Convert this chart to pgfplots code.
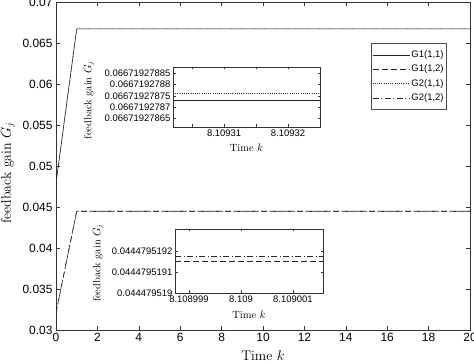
\documentclass[border=0pt]{standalone}
\usepackage{pgfplots}
\pgfplotsset{compat=1.18}
\usepackage{fontspec}
\newfontfamily\arialfont{Liberation Sans}

\pgfplotsset{
  gainstyle/.style={
    scale only axis,
    anchor=south west,
    axis line style={black!80, line width=0.5pt},
    tick style={black!80, line width=0.5pt},
    tick align=inside,
    /pgf/number format/assume math mode=true,
    axis background/.style={fill=white},
    every axis plot/.append style={line width=0.6pt, black!85},
  },
  dashdot/.style={dash pattern=on 6bp off 2.5bp on 1bp off 2.5bp},
  longdash/.style={dash pattern=on 6bp off 3bp},
  finedot/.style={dash pattern=on 0.6bp off 1.6bp},
}

\begin{document}
\begin{tikzpicture}

% main plot: gains over time
\begin{axis}[gainstyle,
  at={(56bp,34bp)}, width=414bp, height=328bp,
  xmin=0, xmax=20, ymin=0.03, ymax=0.07,
  xtick={0,2,4,6,8,10,12,14,16,18,20},
  ytick={0.03,0.035,0.04,0.045,0.05,0.055,0.06,0.065,0.07},
  yticklabels={0.03,0.035,0.04,0.045,0.05,0.055,0.06,0.065,0.07},
  major tick length=4bp,
  ticklabel style={font=\arialfont\fontsize{12}{14}\selectfont},
  xlabel={Time $k$}, ylabel={feedback gain $G_j$},
  label style={font=\fontsize{14}{16}\selectfont},
  xlabel style={at={(axis description cs:0.5,-0.079)}, anchor=center},
  ylabel style={at={(axis description cs:-0.116,0.479)}, anchor=center},
  legend style={at={(axis description cs:0.944,0.875)}, anchor=north east,
    font=\arialfont\fontsize{9.5}{11}\selectfont, draw=black!70,
    line width=0.5pt, inner xsep=1.5bp, inner ysep=6bp, row sep=3bp,
    nodes={inner sep=1.5bp}},
  legend cell align=left,
  legend image code/.code={\draw[#1] (0bp,0bp) -- (37bp,0bp);},
]
\addplot[solid] coordinates {(0,0.0479) (1,0.066719279) (20,0.066719279)};
\addlegendentry{G1(1,1)}
\addplot[longdash] coordinates {(0,0.0321) (1,0.044479519) (20,0.044479519)};
\addlegendentry{G1(1,2)}
\addplot[finedot] coordinates {(0,0.0479) (1,0.066719279) (20,0.066719279)};
\addlegendentry{G2(1,1)}
\addplot[dashdot] coordinates {(0,0.0321) (1,0.044479519) (20,0.044479519)};
\addlegendentry{G2(1,2)}
\end{axis}

% zoom on G1(1,1), G2(1,1): x = 8.1093 + x*1e-6, y = 0.066719278 + y*1e-11
\begin{axis}[gainstyle,
  at={(173bp,237bp)}, width=147bp, height=60bp,
  xmin=2, xmax=25, ymin=6.13, ymax=8.77,
  xtick={5,10,15,20}, xticklabels={,8.10931,,8.10932},
  ytick={6.5,7,7.5,8,8.5},
  yticklabels={0.06671927865,0.0667192787,0.06671927875,0.0667192788,0.06671927885},
  major tick length=2.5bp,
  ticklabel style={font=\arialfont\fontsize{9.5}{11}\selectfont},
  xticklabel style={yshift=1bp},
  yticklabel style={xshift=1bp},
  xlabel={Time $k$}, ylabel={feedback gain $G_j$},
  label style={font=\fontsize{10.5}{12}\selectfont},
  xlabel style={at={(axis description cs:0.5,-0.35)}, anchor=center},
  ylabel style={at={(axis description cs:-0.571,0.45)}, anchor=center},
]
\addplot[solid] coordinates {(2,7.32) (25,7.32)};
\addplot[finedot] coordinates {(2,7.63) (25,7.63)};
\end{axis}

% zoom on G1(1,2), G2(1,2): x = 8.109 + x*1e-6, y = 0.044479519 + y*1e-10
\begin{axis}[gainstyle,
  at={(175bp,71bp)}, width=148bp, height=64bp,
  xmin=-1.27, xmax=1.58, ymin=0, ymax=3.09,
  xtick={-1,0,1}, xticklabels={8.108999,8.109,8.109001},
  ytick={0,1,2},
  yticklabels={0.044479519,0.0444795191,0.0444795192},
  major tick length=2.5bp,
  ticklabel style={font=\arialfont\fontsize{9.5}{11}\selectfont},
  xticklabel style={yshift=1bp},
  yticklabel style={xshift=1bp},
  xlabel={Time $k$}, ylabel={feedback gain $G_j$},
  label style={font=\fontsize{10.5}{12}\selectfont},
  xlabel style={at={(axis description cs:0.5,-0.344)}, anchor=center},
  ylabel style={at={(axis description cs:-0.52,0.47)}, anchor=center},
]
\addplot[longdash] coordinates {(-1.27,1.55) (1.58,1.55)};
\addplot[dashdot] coordinates {(-1.27,1.79) (1.58,1.79)};
\end{axis}

\pgfresetboundingbox
\path[use as bounding box] (0bp,0bp) rectangle (474bp,364bp);
\end{tikzpicture}
\end{document}
